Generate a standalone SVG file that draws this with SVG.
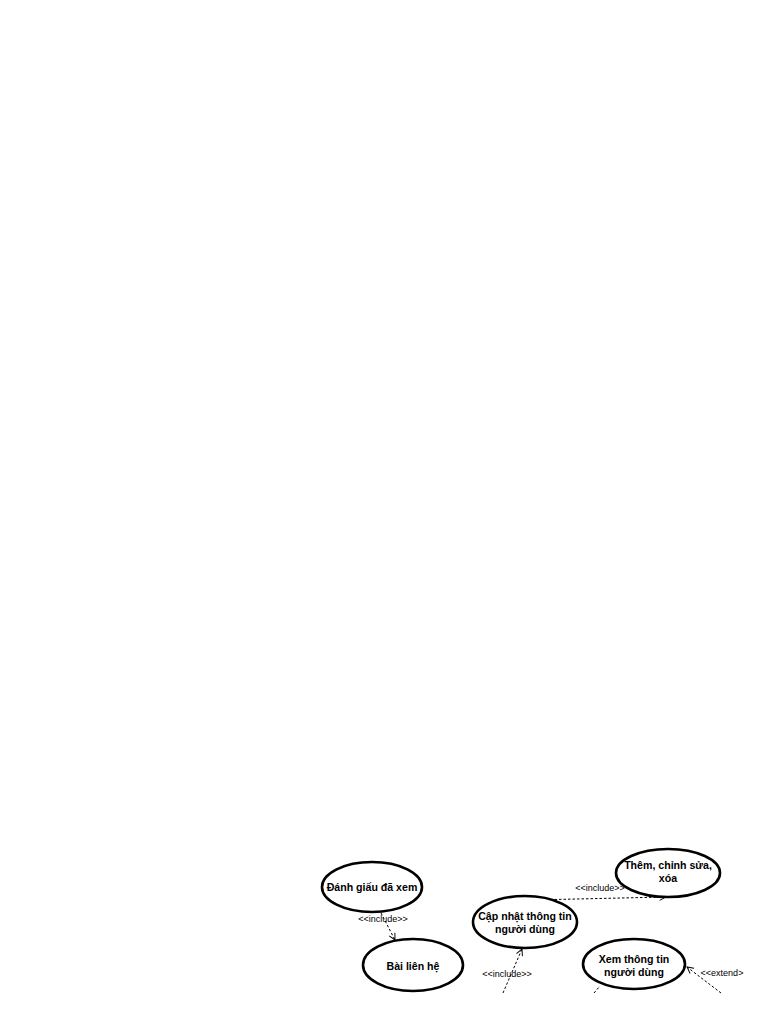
<svg xmlns="http://www.w3.org/2000/svg" width="768" height="1024" viewBox="0 0 768 1024">
<style>
.uc{fill:#fff;stroke:#000;stroke-width:2.6}
.t{font-family:"Liberation Sans",Arial,sans-serif;font-size:10.6px;font-weight:bold;text-anchor:middle;fill:#000}
.l{font-family:"Liberation Sans",Arial,sans-serif;font-size:9px;text-anchor:middle;fill:#000}
.c{fill:none;stroke:#000;stroke-width:1;stroke-dasharray:2.5,2}
</style>
<rect width="768" height="1024" fill="#fff"/>
<defs>
<marker id="arr" viewBox="0 0 10 10" refX="9" refY="5" markerWidth="8" markerHeight="8" markerUnits="userSpaceOnUse" orient="auto">
<path d="M1,1 L9,5 L1,9" fill="none" stroke="#000" stroke-width="1.2"/>
</marker>
</defs>
<g id="connectors">
<line class="c" x1="381" y1="913" x2="395" y2="940" marker-end="url(#arr)"/>
<text class="l" x="383" y="922">&lt;&lt;include&gt;&gt;</text>
<line class="c" x1="532" y1="900" x2="666" y2="897" marker-end="url(#arr)"/>
<text class="l" x="600" y="891">&lt;&lt;include&gt;&gt;</text>
<line class="c" x1="503" y1="993" x2="522" y2="949" marker-end="url(#arr)"/>
<text class="l" x="507" y="977">&lt;&lt;include&gt;&gt;</text>
<line class="c" x1="594" y1="993" x2="600" y2="986"/>
<line class="c" x1="721" y1="993" x2="687" y2="967" marker-end="url(#arr)"/>
<text class="l" x="722" y="976">&lt;&lt;extend&gt;</text>
</g>
<g id="danh-giau">
<ellipse class="uc" cx="372" cy="887" rx="50" ry="25"/>
<text class="t" x="372" y="891">Đánh giấu đã xem</text>
</g>
<g id="bai-lien-he">
<ellipse class="uc" cx="413" cy="965" rx="50" ry="26"/>
<text class="t" x="413" y="970">Bài liên hệ</text>
</g>
<g id="cap-nhat">
<ellipse class="uc" cx="525" cy="922" rx="52" ry="26"/>
<text class="t" x="525" y="920">Cập nhật thông tin</text>
<text class="t" x="525" y="933">người dùng</text>
</g>
<g id="them-sua-xoa">
<ellipse class="uc" cx="668" cy="873" rx="52" ry="24"/>
<text class="t" x="668" y="869">Thêm, chỉnh sửa,</text>
<text class="t" x="668" y="882">xóa</text>
</g>
<g id="xem-thong-tin">
<ellipse class="uc" cx="634" cy="964" rx="51" ry="25"/>
<text class="t" x="634" y="963">Xem thông tin</text>
<text class="t" x="634" y="976">người dùng</text>
</g>
</svg>
